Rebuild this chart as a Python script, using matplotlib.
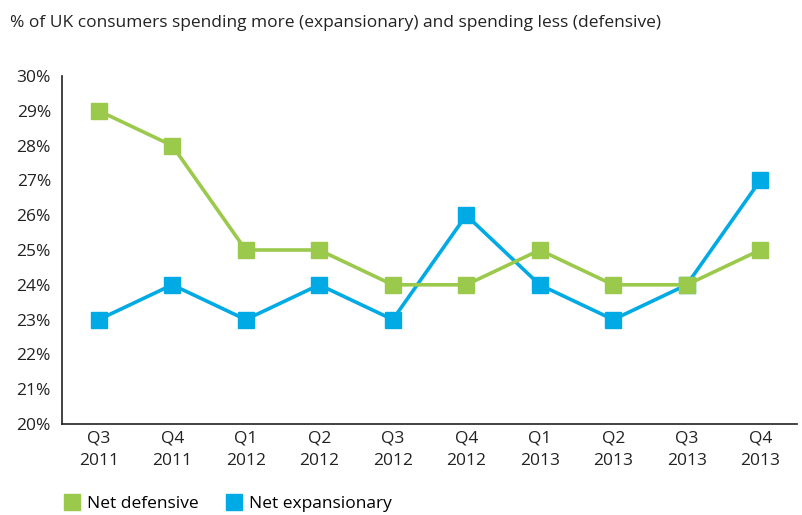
import matplotlib.pyplot as plt
from matplotlib.lines import Line2D

# Data
quarters = ["Q3\n2011", "Q4\n2011", "Q1\n2012", "Q2\n2012", "Q3\n2012",
            "Q4\n2012", "Q1\n2013", "Q2\n2013", "Q3\n2013", "Q4\n2013"]
net_defensive = [29, 28, 25, 25, 24, 24, 25, 24, 24, 25]
net_expansionary = [23, 24, 23, 24, 23, 26, 24, 23, 24, 27]

green = "#9BC94B"
blue = "#00AAE4"
plt.rcParams['font.family'] = ['Open Sans', 'DejaVu Sans']

fig = plt.figure(figsize=(8.03, 5.15), dpi=100)
ax = fig.add_axes([0.0772, 0.1767, 0.9153, 0.6757])

x = range(len(quarters))
ax.plot(x, net_expansionary, color=blue, lw=2.6, marker='s', ms=11.5, zorder=3)
ax.plot(x, net_defensive, color=green, lw=2.6, marker='s', ms=11.5, zorder=3)

ax.set_xlim(-0.5, len(quarters) - 0.5)
ax.set_ylim(20, 30)
ax.set_yticks(range(20, 31))
ax.set_yticklabels([f"{v}%" for v in range(20, 31)])
ax.set_xticks(list(x))
ax.set_xticklabels(quarters, linespacing=1.5)
ax.tick_params(length=0, labelsize=12.5, colors="#222222", pad=5)
ax.tick_params(axis='y', pad=8)
for s in ['top', 'right']:
    ax.spines[s].set_visible(False)
for s in ['left', 'bottom']:
    ax.spines[s].set_color("#222222")
    ax.spines[s].set_linewidth(1.2)

fig.text(0.0125, 0.955, "% of UK consumers spending more (expansionary) and spending less (defensive)",
         fontsize=12.5, color="#222222", va='center')

handles = [Line2D([], [], ls='none', marker='s', ms=11, color=green),
           Line2D([], [], ls='none', marker='s', ms=11, color=blue)]
fig.legend(handles, ["Net defensive", "Net expansionary"], loc='center left',
           bbox_to_anchor=(0.061, 0.022), ncol=2, frameon=False, fontsize=12.5,
           handlelength=0.8, handletextpad=0.5, columnspacing=1.6)

fig.savefig("out.png", dpi=100)
